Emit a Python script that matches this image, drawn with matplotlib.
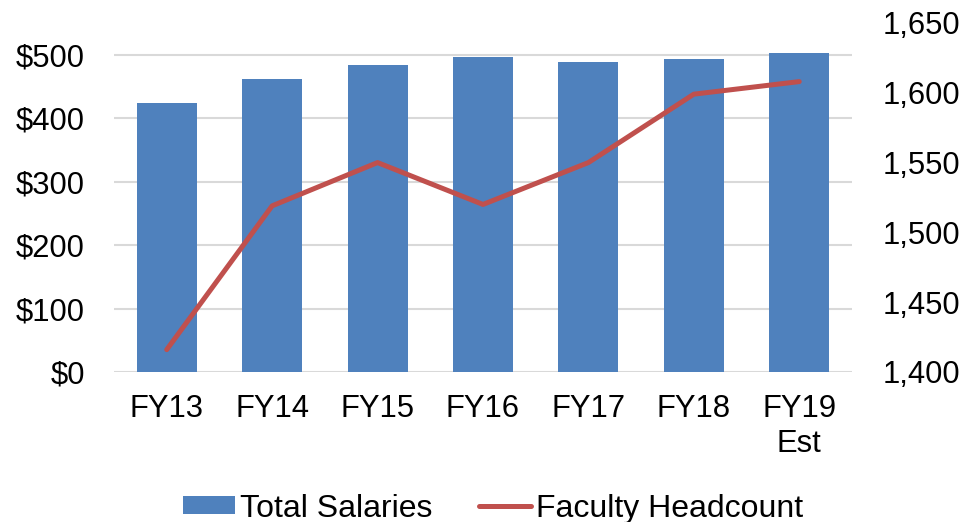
import numpy as np
import matplotlib
matplotlib.use("Agg")
import matplotlib.pyplot as plt
from matplotlib.ticker import FuncFormatter

plt.rcParams["font.family"] = ["Liberation Sans", "DejaVu Sans"]

categories = ["FY13", "FY14", "FY15", "FY16", "FY17", "FY18", "FY19\nEst"]
total_salaries = [424, 462, 483, 496, 489, 494, 503]
faculty_headcount = [1416, 1519, 1550, 1520, 1550, 1599, 1608]

bar_color = "#4F81BD"
line_color = "#C0504D"
grid_color = "#D9D9D9"
fs = 22.3

fig = plt.figure(figsize=(9.77, 5.22), dpi=100)
ax = fig.add_axes([0.1167, 0.2874, 0.7553, 0.6686])
ax2 = ax.twinx()

x = np.arange(len(categories))
ax.bar(x, total_salaries, width=0.57, color=bar_color, label="Total Salaries", zorder=2)
ax2.plot(x, faculty_headcount, color=line_color, linewidth=3.6, label="Faculty Headcount",
         solid_capstyle="round", zorder=3)

ax.set_xlim(-0.5, len(categories) - 0.5)
ax.set_ylim(0, 550)
ax.set_yticks(range(0, 501, 100))
ax.yaxis.set_major_formatter(FuncFormatter(lambda v, p: f"${v:,.0f}"))
ax2.set_ylim(1400, 1650)
ax2.set_yticks(range(1400, 1651, 50))
ax2.yaxis.set_major_formatter(FuncFormatter(lambda v, p: f"{v:,.0f}"))

ax.set_xticks(x)
ax.set_xticklabels(categories, multialignment="center")

ax.grid(axis="y", color=grid_color, linewidth=1.5, zorder=0)
ax.set_axisbelow(True)
for a in (ax, ax2):
    for s in a.spines.values():
        s.set_visible(False)
    a.tick_params(length=0, labelsize=fs, colors="black")
ax.tick_params(axis="y", pad=21)
ax.tick_params(axis="x", pad=16)
ax2.tick_params(axis="y", pad=22)
ax.set_zorder(ax2.get_zorder() - 1)
ax.patch.set_visible(True)
ax2.patch.set_visible(False)

h1, l1 = ax.get_legend_handles_labels()
h2, l2 = ax2.get_legend_handles_labels()
fig.legend(h1 + h2, l1 + l2, loc="lower center", bbox_to_anchor=(0.505, -0.058),
           ncol=2, frameon=False, fontsize=23, handlelength=1.63, handleheight=0.47,
           handletextpad=0.16, columnspacing=1.45)

fig.savefig("out.png", dpi=100)
